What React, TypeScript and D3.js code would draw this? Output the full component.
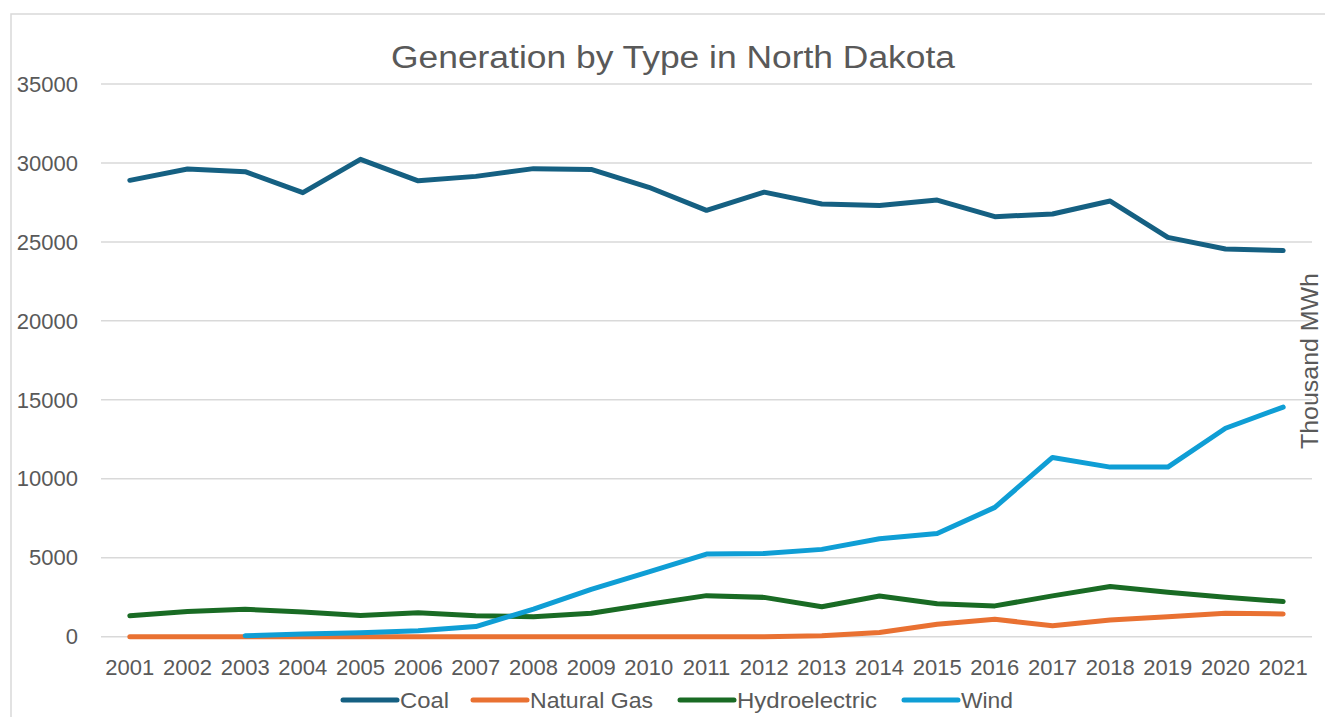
import React from "react";
import * as d3 from "d3";

const years = ["2001","2002","2003","2004","2005","2006","2007","2008","2009","2010","2011","2012","2013","2014","2015","2016","2017","2018","2019","2020","2021"];
const coal = [28900,29620,29450,28120,30230,28870,29150,29640,29590,28460,27000,28150,27400,27300,27650,26600,26770,27590,25290,24550,24450];
const naturalGas = [0,0,0,0,0,0,0,0,0,0,0,0,60,270,790,1100,700,1060,1270,1485,1440];
const hydro = [1330,1600,1740,1560,1350,1520,1320,1270,1480,2050,2600,2490,1900,2575,2090,1950,2585,3180,2820,2500,2225];
const wind: (number | null)[] = [null,null,60,170,250,370,640,1750,3000,4110,5230,5275,5530,6200,6530,8190,11350,10740,10740,13200,14540];
const yTicks = [0,5000,10000,15000,20000,25000,30000,35000];

const seriesNames = ["Coal","Natural Gas","Hydroelectric","Wind"];
const seriesColors = ["#156082","#e97132","#196b24","#0f9ed5"];
const seriesData = [coal, naturalGas, hydro, wind];

export default function App() {
  const W = 1325, H = 717;
  const x = d3.scaleBand<string>().domain(years).range([101, 1312]);
  const xc = (y: string) => (x(y) as number) + x.bandwidth() / 2;
  const y = d3.scaleLinear().domain([0, 35000]).range([636.7, 84]);
  const font = "'Liberation Sans', Arial, sans-serif";
  const textColor = "#595959";

  const line = d3.line<number | null>()
    .defined(d => d !== null)
    .x((_, i) => xc(years[i]))
    .y(d => y(d as number));

  const legendX = [343, 473, 680, 904];
  const legendTextLen = [49, 123, 140, 52];

  return (
    <svg width={W} height={H} style={{ position: "absolute", left: 0, top: 0, background: "#fff" }}>
      <rect x={11} y={14} width={1400} height={800} fill="#fff" stroke="#d9d9d9" strokeWidth={1.5} />
      <text x={673} y={68} textAnchor="middle" fontFamily={font} fontSize={31} fill={textColor} textLength={564} lengthAdjust="spacingAndGlyphs">
        Generation by Type in North Dakota
      </text>
      {yTicks.map(t => (
        <g key={t}>
          <line x1={101} x2={1312} y1={y(t)} y2={y(t)} stroke="#d9d9d9" strokeWidth={1.5} />
          <text x={78} y={y(t)} dy="0.35em" textAnchor="end" fontFamily={font} fontSize={22} fill={textColor}>{t}</text>
        </g>
      ))}
      {years.map(yr => (
        <text key={yr} x={xc(yr)} y={667} dy="0.35em" textAnchor="middle" fontFamily={font} fontSize={22} fill={textColor}>{yr}</text>
      ))}
      <text transform="translate(1318,361) rotate(-90)" textAnchor="middle" fontFamily={font} fontSize={23} fill={textColor} textLength={176} lengthAdjust="spacingAndGlyphs">Thousand MWh</text>
      {seriesData.map((s, i) => (
        <path key={seriesNames[i]} d={line(s) || ""} fill="none" stroke={seriesColors[i]} strokeWidth={5} strokeLinecap="round" strokeLinejoin="round" />
      ))}
      {seriesNames.map((n, i) => (
        <g key={n}>
          <line x1={legendX[i]} x2={legendX[i] + 54} y1={700} y2={700} stroke={seriesColors[i]} strokeWidth={5} strokeLinecap="round" />
          <text x={legendX[i] + 57} y={700} dy="0.35em" fontFamily={font} fontSize={22} fill={textColor} textLength={legendTextLen[i]} lengthAdjust="spacingAndGlyphs">{n}</text>
        </g>
      ))}
    </svg>
  );
}
